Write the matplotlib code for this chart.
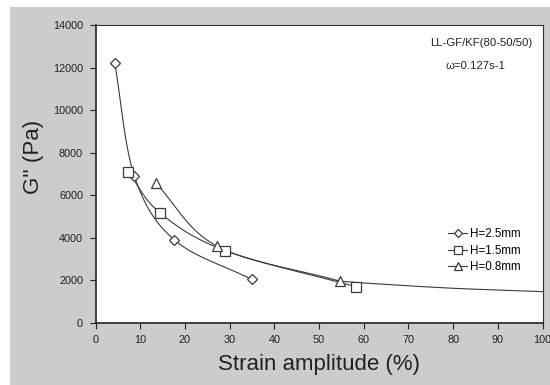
import numpy as np
import matplotlib.pyplot as plt

# ---------------------------------------------------------------------------
# Data
# ---------------------------------------------------------------------------

H25_X = [4.3, 8.7, 17.6, 34.9]
H25_Y = [12200, 6900, 3900, 2040]

H15_X = [7.3, 14.4, 29.0, 58.3]
H15_Y = [7100, 5170, 3390, 1690]

H08_X = [13.5, 27.2, 54.7]
H08_Y = [6560, 3600, 1950]

# long tail curve running out to 100 %
TAIL_X = [54.7, 63.6, 80.0, 100.0]
TAIL_Y = [1950, 1820, 1620, 1460]

X_TICKS = [0, 10, 20, 30, 40, 50, 60, 70, 80, 90, 100]
Y_TICKS = [0, 2000, 4000, 6000, 8000, 10000, 12000, 14000]

LINE_C = "#3a3a3a"
TEXT_C = "#222222"
BG = "#cccccc"

plt.rcParams["font.family"] = ["Liberation Sans", "DejaVu Sans"]


def smooth(xs, ys, n=40):
    """Catmull-Rom curve through the points (Excel style smoothed line)."""
    p = np.column_stack([np.asarray(xs, float) / 100.0,
                         np.asarray(ys, float) / 14000.0])
    if len(p) < 3:
        return xs, ys
    p = np.vstack([2 * p[0] - p[1], p, 2 * p[-1] - p[-2]])
    t = np.linspace(0, 1, n)[:, None]
    out = []
    for i in range(1, len(p) - 2):
        p0, p1, p2, p3 = p[i - 1], p[i], p[i + 1], p[i + 2]
        seg = 0.5 * ((2 * p1) + (-p0 + p2) * t
                     + (2 * p0 - 5 * p1 + 4 * p2 - p3) * t ** 2
                     + (-p0 + 3 * p1 - 3 * p2 + p3) * t ** 3)
        out.append(seg)
    out = np.vstack(out)
    return out[:, 0] * 100.0, out[:, 1] * 14000.0


fig = plt.figure(figsize=(5.5, 3.85), dpi=100)
fig.patch.set_facecolor("white")
# grey panel that leaves a thin white strip at top and left
fig.patches.append(plt.Rectangle((10 / 550, 0), 1, 1 - 7 / 385,
                                 transform=fig.transFigure,
                                 facecolor=BG, edgecolor="none", zorder=-10))

ax = fig.add_axes([95.5 / 550, 1 - 322.7 / 385, 447 / 550, 297.7 / 385])
ax.set_facecolor("white")

for xs, ys, mk, ms, lab in [
    (H25_X, H25_Y, "D", 5.3, "H=2.5mm"),
    (H15_X, H15_Y, "s", 7.2, "H=1.5mm"),
    (H08_X, H08_Y, "^", 7, "H=0.8mm"),
]:
    sx, sy = smooth(xs, ys)
    ax.plot(sx, sy, color=LINE_C, lw=0.8, zorder=2)
    ax.plot(xs, ys, linestyle="none", marker=mk, ms=ms, mfc="white",
            mec=LINE_C, mew=0.9, zorder=3)
    # legend proxy
    ax.plot([], [], color=LINE_C, lw=0.8, marker=mk, ms=ms * 0.8,
            mfc="white", mec=LINE_C, mew=0.9, label=lab)

tx, ty = smooth(TAIL_X, TAIL_Y)
ax.plot(tx, ty, color=LINE_C, lw=0.8, zorder=2)

ax.set_xlim(0, 100)
ax.set_ylim(0, 14000)
ax.set_xticks(X_TICKS)
ax.set_yticks(Y_TICKS)
ax.tick_params(direction="out", length=4, width=0.8, labelsize=7.8,
               colors=TEXT_C, pad=5)
for s in ["left", "bottom"]:
    ax.spines[s].set_linewidth(1.2)
    ax.spines[s].set_color(TEXT_C)
for s in ["top", "right"]:
    ax.spines[s].set_linewidth(0.8)
    ax.spines[s].set_color("#333333")

ax.set_xlabel("Strain amplitude (%)", fontsize=16, color=TEXT_C, labelpad=6)
ax.set_ylabel("G'' (Pa)", fontsize=16, color=TEXT_C)
ax.yaxis.set_label_coords(-51 / 447, 0.557)

ax.text(0.977, 0.938, "LL-GF/KF(80-50/50)", transform=ax.transAxes,
        ha="right", va="center", fontsize=8.2, color=TEXT_C)
ax.text(0.851, 0.862, "\u03c9=0.127s-1", transform=ax.transAxes,
        ha="center", va="center", fontsize=8.2, color=TEXT_C)

ax.legend(loc="upper left", bbox_to_anchor=(0.789, 0.318), frameon=False,
          fontsize=8.4, handlelength=1.6, handletextpad=0.25,
          labelspacing=0.4, borderaxespad=0, borderpad=0)

fig.savefig("out.png", dpi=100, facecolor=fig.get_facecolor())
